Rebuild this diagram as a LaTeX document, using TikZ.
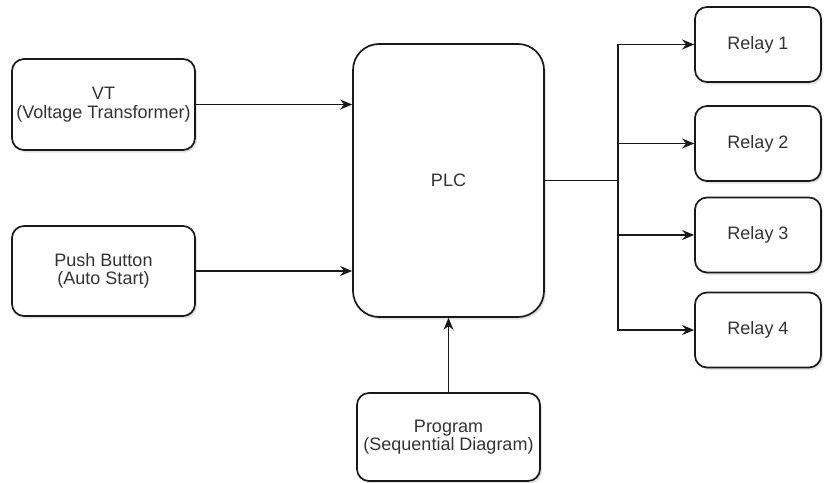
\documentclass[tikz,border=0pt]{standalone}
\usepackage{fontspec}
\setmainfont{Liberation Sans}
\usetikzlibrary{arrows.meta,shadows}
\definecolor{txt}{HTML}{333333}
\tikzset{
  blk/.style={draw=black!90, line width=1.7pt, fill=white, rounded corners=12pt,
    align=center, inner sep=0pt, text=txt,
    font=\fontsize{18}{18.5}\selectfont,
    drop shadow={shadow xshift=2pt, shadow yshift=-2.5pt, opacity=0.22}},
  conn/.style={draw=black!90, line width=1.8pt},
  arr/.style={conn, -{Stealth[length=12pt,width=10pt]}}
}
\begin{document}
\begin{tikzpicture}[x=1pt,y=-1pt]
\useasboundingbox (0,0) rectangle (824,482);
\node[blk, minimum width=183pt, minimum height=91pt] (vt) at (103.5,104.5) {VT\\(Voltage Transformer)};
\node[blk, minimum width=183pt, minimum height=90pt] (pb) at (103.5,271) {Push Button\\(Auto Start)};
\node[blk, rounded corners=26pt, minimum width=191pt, minimum height=273pt] (plc) at (448.5,180.5) {PLC};
\node[blk, minimum width=183pt, minimum height=88pt] (prog) at (448.5,437) {Program\\(Sequential Diagram)};
\node[blk, minimum width=126pt, minimum height=75pt] (r1) at (758,44.5) {Relay 1};
\node[blk, minimum width=126pt, minimum height=75pt] (r2) at (758,143.5) {Relay 2};
\node[blk, minimum width=126pt, minimum height=75pt] (r3) at (758,235) {Relay 3};
\node[blk, minimum width=126pt, minimum height=75pt] (r4) at (758,330) {Relay 4};
\coordinate (j) at (618,180.5);
\draw[arr] (vt.east) -- (vt.east -| plc.west);
\draw[arr] (pb.east) -- (pb.east -| plc.west);
\draw[arr] (prog.north) -- (plc.south);
\draw[conn] (plc.east) -- (j);
\draw[arr] (j) |- (r1.west);
\draw[arr] (j) |- (r2.west);
\draw[arr] (j) |- (r3.west);
\draw[arr] (j) |- (r4.west);
\end{tikzpicture}
\end{document}
